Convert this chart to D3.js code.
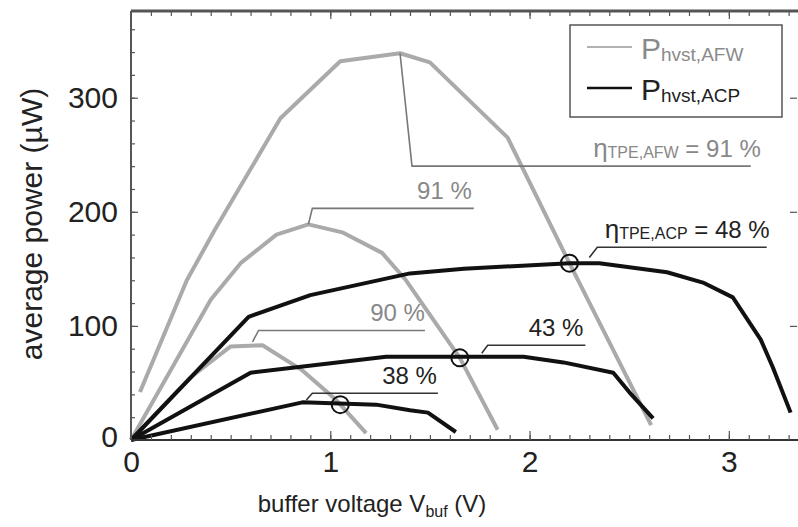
<!DOCTYPE html>
<html>
<head>
<meta charset="utf-8">
<script src="https://cdn.jsdelivr.net/npm/d3@7"></script>
<style>
  body { margin: 0; background: #fff; }
  text { font-family: "Liberation Sans", Arial, sans-serif; }
</style>
</head>
<body>
<script>
var width = 798, height = 527;

// P_hvst,AFW curves (gray), [V, µW]
var afwHigh = [[0.045, 42], [0.28, 140], [0.42, 184], [0.75, 282], [1.05, 332], [1.35, 339],
  [1.50, 331], [1.89, 265], [2.20, 155], [2.61, 13]];
var afwMid = [[0, 0], [0.40, 123], [0.55, 155], [0.73, 180], [0.89, 189], [1.06, 182],
  [1.26, 164], [1.38, 140], [1.65, 72], [1.84, 9]];
var afwLow = [[0, 0], [0.30, 55], [0.50, 82], [0.66, 83], [0.86, 61], [1.03, 35], [1.18, 6]];

// P_hvst,ACP curves (black)
var acpHigh = [[0, 0], [0.59, 108], [0.90, 127], [1.40, 146], [1.67, 150], [2.20, 155], [2.35, 155],
  [2.69, 147], [2.87, 138], [3.02, 125], [3.16, 88], [3.22, 64], [3.31, 24]];
var acpMid = [[0, 0], [0.60, 59], [1.28, 73], [1.97, 73], [2.17, 68], [2.42, 59], [2.50, 42], [2.62, 19]];
var acpLow = [[0, 0], [0.86, 33], [1.23, 31], [1.40, 26], [1.49, 24], [1.63, 7]];

// operating points (circles)
var markers = [[1.05, 31], [1.65, 72], [2.20, 155]];

// leader annotations: anchor, elbow, end x, label
var notes = [
  { anchor: [1.35, 339], elbow: [1.41, 240], end: 3.11, eta: "TPE,AFW", label: " = 91 %", dark: false, dx: 10 },
  { anchor: [0.89, 189], elbow: [0.91, 203], end: 1.72, eta: null, label: "91 %", dark: false, dx: -2 },
  { anchor: [0.61, 86], elbow: [0.64, 96], end: 1.475, eta: null, label: "90 %", dark: false, dx: 0 },
  { anchor: [0.88, 35], elbow: [0.91, 41], end: 1.54, eta: null, label: "38 %", dark: true, dx: -1 },
  { anchor: [1.76, 76], elbow: [1.79, 83], end: 2.28, eta: null, label: "43 %", dark: true, dx: -2 },
  { anchor: [2.30, 160], elbow: [2.34, 169], end: 3.19, eta: "TPE,ACP", label: " = 48 %", dark: true, dx: 3 }
];

var xTicks = [0, 1, 2, 3];
var yTicks = [0, 100, 200, 300];

var x = d3.scaleLinear().domain([0, 3.342]).range([131, 797]);
var y = d3.scaleLinear().domain([0, 376]).range([440, 11]);

var svg = d3.select("body").append("svg")
  .attr("width", width)
  .attr("height", height);

var line = d3.line().x(d => x(d[0])).y(d => y(d[1]));

var gray = "#aaaaaa", black = "#111111";
var grayText = "#888888", darkText = "#222222";

// curves
[afwHigh, afwMid, afwLow].forEach(function (c) {
  svg.append("path").attr("d", line(c))
    .attr("fill", "none").attr("stroke", gray)
    .attr("stroke-width", 4).attr("stroke-linejoin", "round");
});
[acpHigh, acpMid, acpLow].forEach(function (c) {
  svg.append("path").attr("d", line(c))
    .attr("fill", "none").attr("stroke", black)
    .attr("stroke-width", 4).attr("stroke-linejoin", "round");
});

// circles
svg.selectAll("circle.m").data(markers).enter().append("circle")
  .attr("class", "m")
  .attr("cx", d => x(d[0])).attr("cy", d => y(d[1]))
  .attr("r", 8.5).attr("fill", "none")
  .attr("stroke", black).attr("stroke-width", 2);

// annotations
notes.forEach(function (n) {
  var col = n.dark ? "#333" : "#777";
  var pts = [n.anchor, n.elbow, [n.end, n.elbow[1]]];
  svg.append("path").attr("d", line(pts))
    .attr("fill", "none").attr("stroke", col).attr("stroke-width", 1.6);
  var t = svg.append("text")
    .attr("x", x(n.end) + n.dx)
    .attr("y", y(n.elbow[1]) - 9)
    .attr("text-anchor", "end")
    .attr("font-size", 24)
    .attr("fill", n.dark ? darkText : grayText);
  if (n.eta) {
    t.append("tspan").attr("font-size", 26).text("η");
    t.append("tspan").attr("font-size", 16).attr("dy", 1).text(n.eta);
    t.append("tspan").attr("dy", -1).text(n.label);
  } else {
    t.text(n.label);
  }
});

// frame
var frame = svg.append("g").attr("stroke", "#555").attr("fill", "none");
frame.append("line").attr("x1", x(0)).attr("x2", width).attr("y1", y(376)).attr("y2", y(376)).attr("stroke-width", 3);
frame.append("line").attr("x1", x(0)).attr("x2", x(0)).attr("y1", y(376)).attr("y2", y(0)).attr("stroke-width", 2);
frame.append("line").attr("x1", x(0)).attr("x2", width).attr("y1", y(0)).attr("y2", y(0)).attr("stroke", "#333").attr("stroke-width", 2);

// ticks
function minorAxis(axis, pos, values, size) {
  var g = svg.append("g").attr("transform", pos)
    .call(axis.tickValues(values).tickSize(size).tickFormat(""));
  g.select(".domain").remove();
  g.selectAll("line").attr("stroke", "#555").attr("stroke-width", 1.2);
  return g;
}
var xMinor = d3.range(1, 34).map(i => i / 10);
var yMinor = d3.range(20, 376, 20);
minorAxis(d3.axisBottom(x), "translate(0," + y(0) + ")", xMinor, -5);
minorAxis(d3.axisBottom(x), "translate(0," + y(0) + ")", [1, 2, 3], -9);
minorAxis(d3.axisTop(x), "translate(0," + y(376) + ")", xMinor, -5);
minorAxis(d3.axisTop(x), "translate(0," + y(376) + ")", [1, 2, 3], -8);
minorAxis(d3.axisLeft(y), "translate(" + x(0) + ",0)", yMinor, -4);
minorAxis(d3.axisLeft(y), "translate(" + x(0) + ",0)", [100, 200, 300], -7);
minorAxis(d3.axisRight(y), "translate(797,0)", [100, 200, 300], -7);

// tick labels
var gx = svg.append("g").attr("transform", "translate(0," + y(0) + ")")
  .call(d3.axisBottom(x).tickValues(xTicks).tickSize(0).tickPadding(11).tickFormat(d3.format("d")));
gx.select(".domain").remove();
gx.selectAll("text").attr("font-size", 30).attr("fill", darkText)
  .attr("font-family", "Liberation Sans, Arial, sans-serif");

var gy = svg.append("g").attr("transform", "translate(" + x(0) + ",0)")
  .call(d3.axisLeft(y).tickValues(yTicks).tickSize(0).tickPadding(13).tickFormat(d3.format("d")));
gy.select(".domain").remove();
gy.selectAll("text").attr("font-size", 30).attr("fill", darkText)
  .attr("font-family", "Liberation Sans, Arial, sans-serif");
gy.selectAll(".tick").filter(d => d === 0).select("text").attr("dy", "0.2em");

// axis titles
var xt = svg.append("text").attr("x", 372).attr("y", 512)
  .attr("text-anchor", "middle").attr("font-size", 24).attr("fill", darkText);
xt.append("tspan").text("buffer voltage V");
xt.append("tspan").attr("font-size", 16).attr("dy", 5).text("buf");
xt.append("tspan").attr("dy", -5).text(" (V)");

svg.append("text")
  .attr("transform", "translate(42,224) rotate(-90)")
  .attr("text-anchor", "middle").attr("font-size", 30).attr("fill", darkText)
  .text("average power (µW)");

// legend
var lg = svg.append("g");
lg.append("rect").attr("x", 570).attr("y", 25).attr("width", 212).attr("height", 92)
  .attr("fill", "#fff").attr("stroke", "#555").attr("stroke-width", 1.5);
var legendItems = [
  { sub: "hvst,AFW", color: "#999", text: "#8a8a8a", w: 1.5, yy: 47 },
  { sub: "hvst,ACP", color: black, text: darkText, w: 2.5, yy: 88 }
];
legendItems.forEach(function (d) {
  lg.append("line").attr("x1", 587).attr("x2", 632).attr("y1", d.yy).attr("y2", d.yy)
    .attr("stroke", d.color).attr("stroke-width", d.w);
  var t = lg.append("text").attr("x", 641).attr("y", d.yy + 12)
    .attr("font-size", 30).attr("fill", d.text);
  t.append("tspan").text("P");
  t.append("tspan").attr("font-size", 19).attr("dy", 2).text(d.sub);
});
</script>
</body>
</html>
